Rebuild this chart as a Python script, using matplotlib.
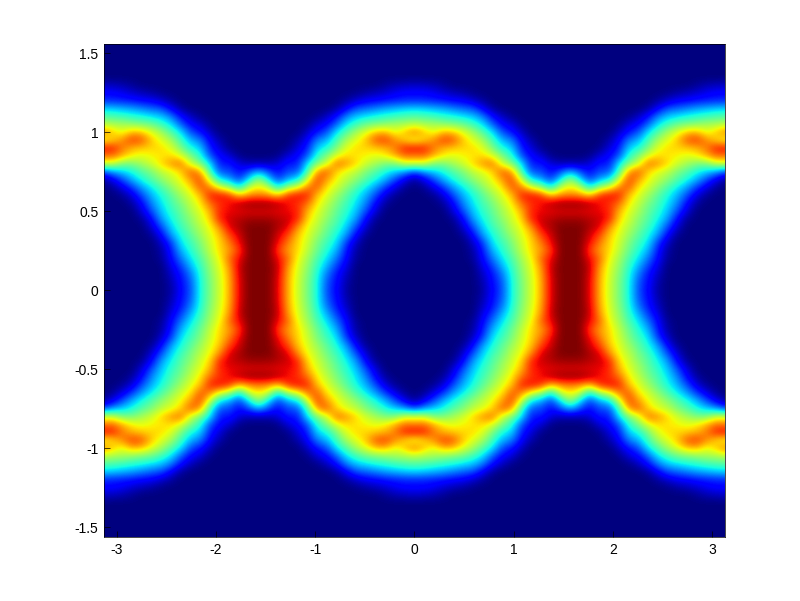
#!/usr/bin/env python3
# density map on [-pi,pi]x[-pi/2,pi/2]; values for one quadrant, the map is symmetric
import numpy as np
import matplotlib; matplotlib.use("Agg"); import matplotlib.pyplot as plt

plt.rcParams["font.family"]=["Liberation Sans","DejaVu Sans"]

x_step=np.pi/32   # 17 columns from x=0 to x=pi/2
y_step=.05        # rows from y=0 upward
density=[
 [0,0,0,0,0,0,0,.03,.12,.20,.38,.50,.60,.72,.92,1,1],
 [0,0,0,0,0,0,0,.04,.13,.21,.38,.50,.60,.72,.92,1,1],
 [0,0,0,0,0,0,0,.06,.14,.24,.39,.51,.61,.73,.93,1,1],
 [0,0,0,0,0,0,0,.09,.18,.30,.41,.53,.62,.75,.94,1,1],
 [0,0,0,0,0,0,.02,.12,.24,.35,.44,.55,.64,.80,.90,1,1],
 [0,0,0,0,0,0,.03,.14,.30,.39,.48,.58,.68,.74,.85,1,1],
 [0,0,0,0,0,0,.06,.18,.35,.42,.50,.60,.68,.78,.90,1,1],
 [0,0,0,0,0,.02,.12,.28,.38,.46,.54,.62,.70,.84,.93,1,1],
 [0,0,0,0,0,.07,.20,.33,.42,.49,.57,.64,.76,.92,.96,1,1],
 [0,0,0,0,.02,.12,.28,.37,.45,.52,.60,.68,.88,.93,.95,.97,.97],
 [0,0,0,0,.08,.20,.32,.40,.47,.55,.62,.72,.88,.90,.91,.92,.92],
 [0,0,0,.03,.12,.26,.35,.43,.50,.58,.66,.80,.86,.90,.95,.98,.98],
 [0,0,.02,.08,.20,.30,.38,.46,.54,.62,.70,.88,.90,.86,.70,.76,.78],
 [0,.02,.09,.18,.28,.36,.44,.52,.60,.66,.82,.78,.62,.55,.36,.60,.66],
 [.02,.10,.20,.30,.38,.45,.52,.58,.64,.74,.85,.60,.35,.30,.18,.35,.55],
 [.20,.28,.33,.38,.45,.50,.58,.62,.68,.82,.75,.42,.20,.20,.12,.20,.30],
 [.60,.60,.50,.50,.55,.60,.68,.75,.80,.60,.50,.35,.14,.15,.08,.05,.05],
 [.78,.80,.72,.65,.62,.65,.66,.68,.62,.50,.40,.20,.12,.08,.01,0,0],
 [.90,.88,.78,.72,.70,.68,.68,.62,.50,.38,.33,.15,.08,.01,0,0,0],
 [.62,.68,.76,.85,.82,.70,.62,.55,.43,.30,.25,.11,.04,0,0,0,0],
 [.78,.70,.62,.72,.70,.62,.55,.45,.35,.20,.14,.06,0,0,0,0,0],
 [.58,.55,.55,.52,.50,.48,.42,.35,.22,.12,.08,.01,0,0,0,0,0],
 [.45,.44,.42,.40,.38,.35,.32,.25,.13,.06,.01,0,0,0,0,0,0],
 [.33,.32,.30,.28,.25,.22,.20,.11,.03,0,0,0,0,0,0,0,0],
 [.16,.16,.15,.14,.12,.11,.07,.03,0,0,0,0,0,0,0,0,0],
 [.12,.12,.10,.07,.05,.03,.01,0,0,0,0,0,0,0,0,0,0],
 [.06,.05,.04,.02,0,0,0,0,0,0,0,0,0,0,0,0,0],
 [0,0,0,0,0,0,0,0,0,0,0,0,0,0,0,0,0],
 [0,0,0,0,0,0,0,0,0,0,0,0,0,0,0,0,0],
 [0,0,0,0,0,0,0,0,0,0,0,0,0,0,0,0,0],
 [0,0,0,0,0,0,0,0,0,0,0,0,0,0,0,0,0],
 [0,0,0,0,0,0,0,0,0,0,0,0,0,0,0,0,0],
 [0,0,0,0,0,0,0,0,0,0,0,0,0,0,0,0,0],
]
x_ticks=[-3,-2,-1,0,1,2,3]
x_labels=["-3","-2","-1","0","1","2","3"]
y_ticks=[-1.5,-1,-.5,0,.5,1,1.5]
y_labels=["-1.5","-1","-0.5","0","0.5","1","1.5"]

q=np.array(density)
# unfold the quadrant: mirror about x=pi/2, then about x=0 and y=0
half=np.hstack([q,q[:,-2::-1]])
row=np.hstack([half[:,:0:-1],half])
Z=np.vstack([row[:0:-1],row])
nr,nc=q.shape
x_ext=(nc-1)*2*x_step+x_step/2; y_ext=(nr-1)*y_step+y_step/2

fig=plt.figure(figsize=(8.0,6.01),dpi=100)
ax=fig.add_axes([104/800,1-537/601,621/800,493/601])
ax.imshow(Z,cmap="jet",vmin=0,vmax=1,origin="lower",aspect="auto",interpolation="bicubic",
    extent=[-x_ext,x_ext,-y_ext,y_ext])
ax.set_xlim(-3.13,3.13); ax.set_ylim(-1.563,1.557)
ax.set_xticks(x_ticks,x_labels); ax.set_yticks(y_ticks,y_labels)
ax.tick_params(direction="in",length=4,width=.5,labelsize=10,pad=4)
for s in ax.spines.values(): s.set_linewidth(.5)
fig.savefig("out.png",dpi=100)
